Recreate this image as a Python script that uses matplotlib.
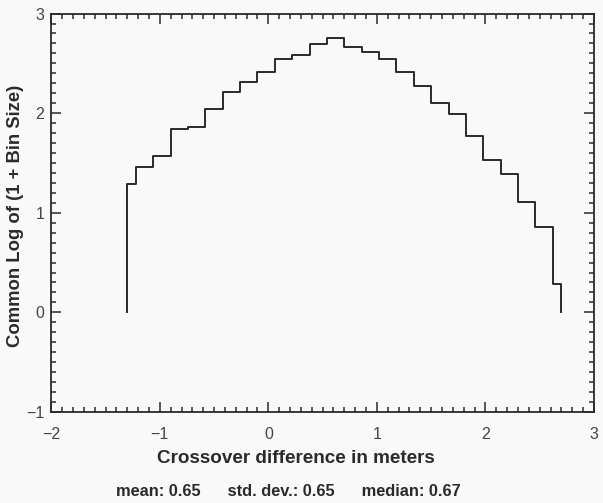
import numpy as np
import matplotlib
matplotlib.use("Agg")
import matplotlib.pyplot as plt
from matplotlib.ticker import MultipleLocator

# Histogram step edges (meters) and log10(1 + count) levels
edges = [-1.30, -1.22, -1.06, -0.90, -0.74, -0.58, -0.42, -0.26, -0.10, 0.06,
         0.22, 0.38, 0.54, 0.70, 0.86, 1.02, 1.18, 1.34, 1.50, 1.66,
         1.82, 1.98, 2.14, 2.30, 2.46, 2.62, 2.70]
levels = [1.29, 1.46, 1.57, 1.84, 1.86, 2.04, 2.21, 2.31, 2.41, 2.54,
          2.58, 2.69, 2.75, 2.66, 2.61, 2.54, 2.41, 2.27, 2.10, 1.99,
          1.77, 1.53, 1.39, 1.11, 0.86, 0.28]

stats_text = "mean: 0.65      std. dev.: 0.65      median: 0.67"

plt.rcParams["font.family"] = ["Liberation Sans", "DejaVu Sans"]
bg = "#f8f9f8"
ink = "#2a2a2a"

fig = plt.figure(figsize=(6.03, 5.03), dpi=100, facecolor=bg)
ax = fig.add_axes([0.085, 0.181, 0.900, 0.792], facecolor=bg)

# step outline, dropping to zero at both ends
xs = [edges[0]]
ys = [0.0]
for i, v in enumerate(levels):
    xs += [edges[i], edges[i + 1]]
    ys += [v, v]
xs.append(edges[-1])
ys.append(0.0)
ax.plot(xs, ys, color=ink, lw=1.4)

ax.set_xlim(-2, 3)
ax.set_ylim(-1, 3)
ax.xaxis.set_major_locator(MultipleLocator(1))
ax.xaxis.set_minor_locator(MultipleLocator(0.1))
ax.yaxis.set_major_locator(MultipleLocator(1))
ax.yaxis.set_minor_locator(MultipleLocator(0.1))
ax.tick_params(which="both", direction="in", top=True, right=True,
               color=ink, width=1.1)
ax.tick_params(which="major", length=7.5, labelsize=11.5, labelcolor="#444444")
ax.tick_params(axis="x", which="major", pad=10.5)
ax.tick_params(axis="y", which="major", pad=5)
ax.tick_params(which="minor", length=3.5)
for s in ax.spines.values():
    s.set_color(ink)
    s.set_linewidth(1.3)

fig.text(0.49, 0.088, "Crossover difference in meters", ha="center", va="center",
         fontsize=13.6, fontweight="bold", color=ink)
fig.text(0.026, 0.571, "Common Log of (1 + Bin Size)", ha="center", va="center",
         rotation=90, fontsize=13.3, fontweight="bold", color=ink)
fig.text(0.478, 0.022, stats_text, ha="center", va="center",
         fontsize=11.8, fontweight="bold", color=ink)

fig.savefig("out.png", dpi=100, facecolor=bg)
